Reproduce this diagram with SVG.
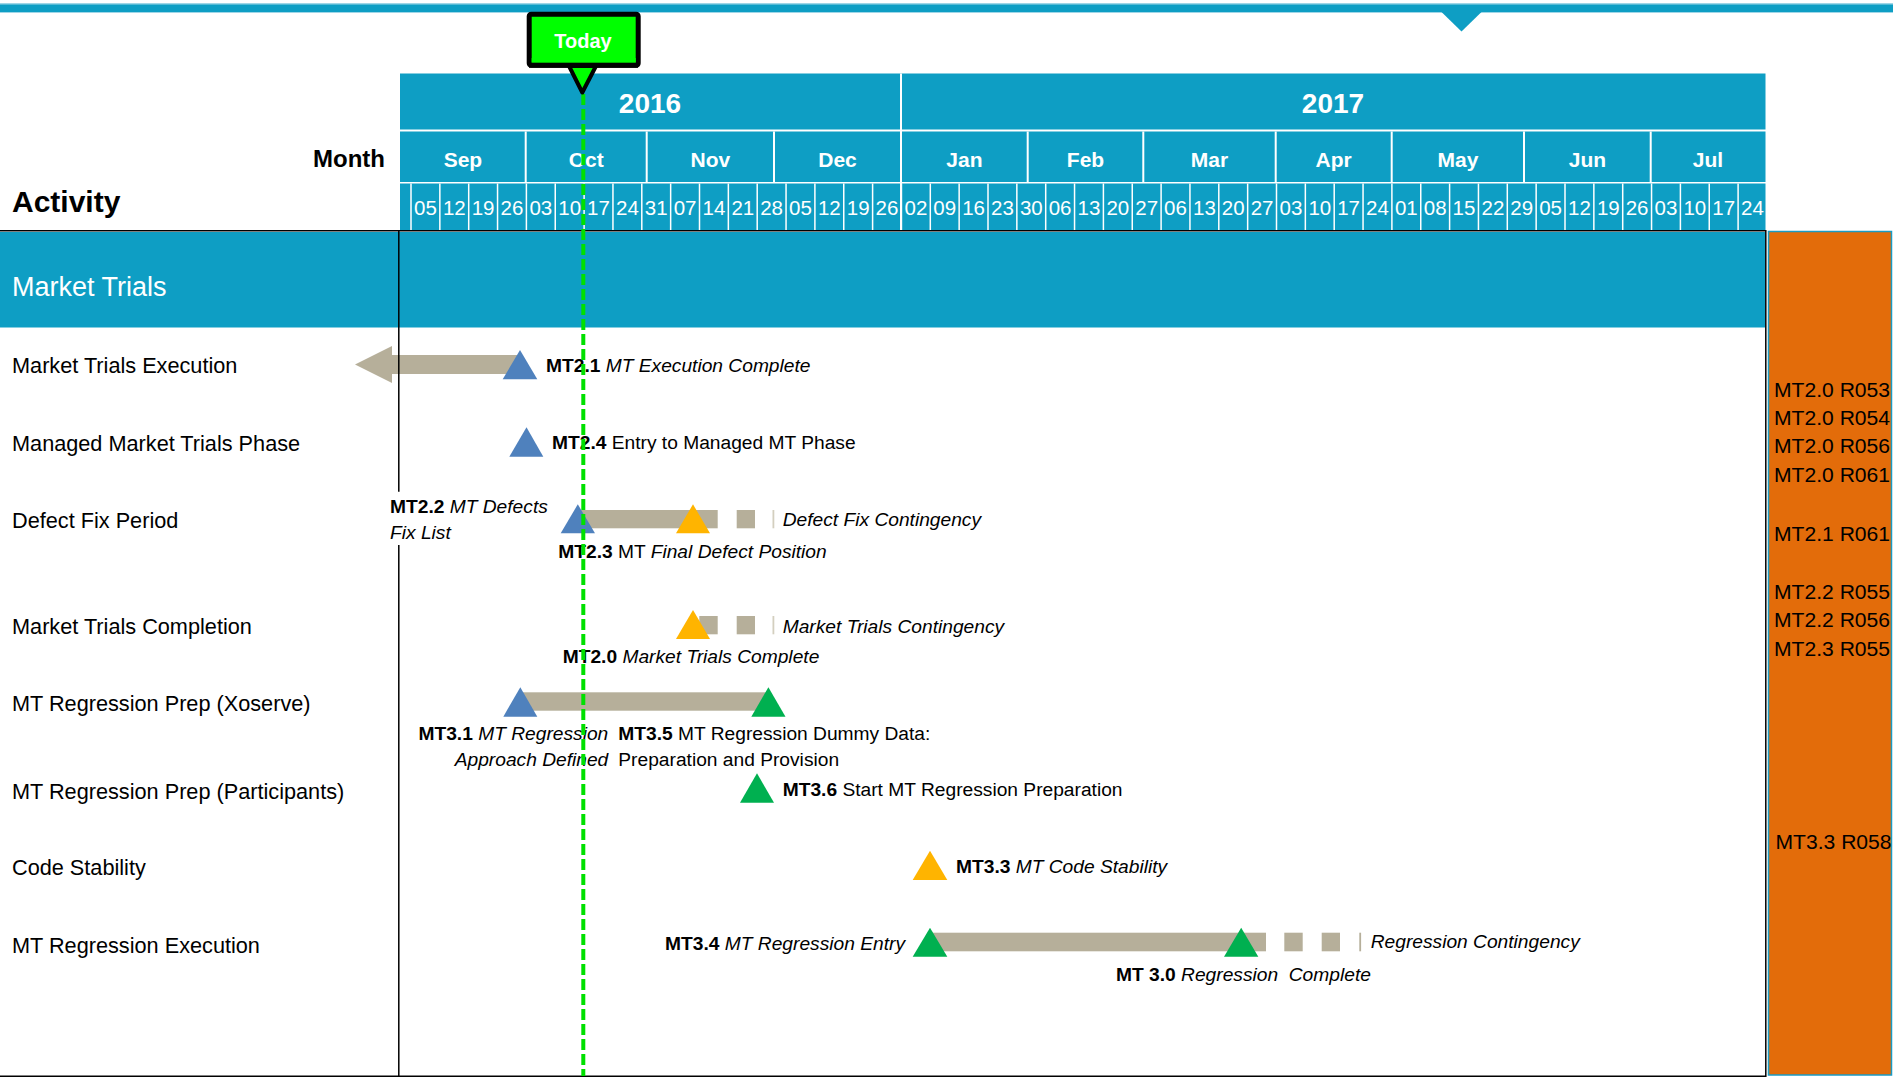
<svg xmlns="http://www.w3.org/2000/svg" width="1893" height="1081" viewBox="0 0 1893 1081">
<style>
text{font-family:'Liberation Sans',Arial,sans-serif;}
.hdr{fill:#0E9EC4;}
.yr{font-size:28px;font-weight:bold;fill:#fff;text-anchor:middle;}
.mo{font-size:21px;font-weight:bold;fill:#fff;text-anchor:middle;}
.wk{font-size:20.5px;fill:#fff;text-anchor:middle;}
.row{font-size:21.7px;fill:#000;}
.ms{font-size:19.2px;fill:#000;}
.b{font-weight:bold;}
.i{font-style:italic;}
.pan{font-size:21.1px;fill:#000;}
.bar{fill:#B6AF9A;}
.thin{fill:#D4CFBF;}
.blue{fill:#4F81BD;}
.green{fill:#00B050;}
.yel{fill:#FFB400;}
</style>
<rect width="1893" height="1081" fill="#fff"/>
<!-- top band -->
<g id="top-band">
<rect x="0" y="3" width="1893" height="10" fill="#9FD6E7"/>
<rect x="0" y="4.5" width="1893" height="7.5" class="hdr"/>
<polygon points="1441.5,12 1481.5,12 1461.5,31.5" class="hdr"/>
</g>
<!-- header -->
<g id="timescale">
<rect x="400" y="73.5" width="1365.5" height="56" class="hdr"/>
<rect x="400" y="131.5" width="1365.5" height="50.5" class="hdr"/>
<rect x="400" y="183.5" width="1365.5" height="47" class="hdr"/>
<path d="M901 73.5V230 M525.7 131.5V182 M646.7 131.5V182 M774 131.5V182 M1027.7 131.5V182 M1143.3 131.5V182 M1275.7 131.5V182 M1391.7 131.5V182 M1524 131.5V182 M1650.7 131.5V182" stroke="#fff" stroke-width="2"/>
<path d="M411 183.5V230 M439.85 183.5V230 M468.7 183.5V230 M497.55 183.5V230 M526.4 183.5V230 M555.25 183.5V230 M584.1 183.5V230 M612.95 183.5V230 M641.8 183.5V230 M670.65 183.5V230 M699.5 183.5V230 M728.35 183.5V230 M757.2 183.5V230 M786.05 183.5V230 M814.9 183.5V230 M843.75 183.5V230 M872.6 183.5V230 M901.45 183.5V230 M930.3 183.5V230 M959.15 183.5V230 M988 183.5V230 M1016.85 183.5V230 M1045.7 183.5V230 M1074.55 183.5V230 M1103.4 183.5V230 M1132.25 183.5V230 M1161.1 183.5V230 M1189.95 183.5V230 M1218.8 183.5V230 M1247.65 183.5V230 M1276.5 183.5V230 M1305.35 183.5V230 M1334.2 183.5V230 M1363.05 183.5V230 M1391.9 183.5V230 M1420.75 183.5V230 M1449.6 183.5V230 M1478.45 183.5V230 M1507.3 183.5V230 M1536.15 183.5V230 M1565 183.5V230 M1593.85 183.5V230 M1622.7 183.5V230 M1651.55 183.5V230 M1680.4 183.5V230 M1709.25 183.5V230 M1738.1 183.5V230" stroke="#fff" stroke-width="1.5"/>
<text class="yr" x="650" y="113">2016</text>
<text class="yr" x="1333" y="113">2017</text>
<text class="mo" x="462.9" y="167">Sep</text>
<text class="mo" x="586.2" y="167">Oct</text>
<text class="mo" x="710.4" y="167">Nov</text>
<text class="mo" x="837.5" y="167">Dec</text>
<text class="mo" x="964.4" y="167">Jan</text>
<text class="mo" x="1085.5" y="167">Feb</text>
<text class="mo" x="1209.5" y="167">Mar</text>
<text class="mo" x="1333.7" y="167">Apr</text>
<text class="mo" x="1457.9" y="167">May</text>
<text class="mo" x="1587.4" y="167">Jun</text>
<text class="mo" x="1707.9" y="167">Jul</text>
<text class="wk" y="215"><tspan x="425.4">05</tspan><tspan x="454.3">12</tspan><tspan x="483.1">19</tspan><tspan x="512">26</tspan><tspan x="540.8">03</tspan><tspan x="569.7">10</tspan><tspan x="598.5">17</tspan><tspan x="627.4">24</tspan><tspan x="656.2">31</tspan><tspan x="685.1">07</tspan><tspan x="713.9">14</tspan><tspan x="742.8">21</tspan><tspan x="771.6">28</tspan><tspan x="800.5">05</tspan><tspan x="829.3">12</tspan><tspan x="858.2">19</tspan><tspan x="887">26</tspan><tspan x="915.9">02</tspan><tspan x="944.7">09</tspan><tspan x="973.6">16</tspan><tspan x="1002.4">23</tspan><tspan x="1031.3">30</tspan><tspan x="1060.1">06</tspan><tspan x="1089">13</tspan><tspan x="1117.8">20</tspan><tspan x="1146.7">27</tspan><tspan x="1175.5">06</tspan><tspan x="1204.4">13</tspan><tspan x="1233.2">20</tspan><tspan x="1262.1">27</tspan><tspan x="1290.9">03</tspan><tspan x="1319.8">10</tspan><tspan x="1348.6">17</tspan><tspan x="1377.5">24</tspan><tspan x="1406.3">01</tspan><tspan x="1435.2">08</tspan><tspan x="1464">15</tspan><tspan x="1492.9">22</tspan><tspan x="1521.7">29</tspan><tspan x="1550.6">05</tspan><tspan x="1579.4">12</tspan><tspan x="1608.3">19</tspan><tspan x="1637.1">26</tspan><tspan x="1666">03</tspan><tspan x="1694.8">10</tspan><tspan x="1723.7">17</tspan><tspan x="1752.5">24</tspan></text>
<text x="385" y="167" font-size="24px" font-weight="bold" text-anchor="end">Month</text>
<text x="12" y="212" font-size="30px" font-weight="bold">Activity</text>
</g>
<!-- section band -->
<g id="section-market-trials">
<rect x="0" y="232" width="1765" height="95.5" class="hdr"/>
<text x="12" y="295.7" font-size="27px" fill="#fff">Market Trials</text>
</g>
<!-- orange panel -->
<g id="panel">
<rect x="1768.5" y="231.5" width="123" height="843.5" fill="#E36C0A" stroke="#1A9BC4" stroke-width="1.5"/>
<text class="pan" x="1774" y="396.7">MT2.0 R053</text>
<text class="pan" x="1774" y="424.8">MT2.0 R054</text>
<text class="pan" x="1774" y="453.3">MT2.0 R056</text>
<text class="pan" x="1774" y="482.3">MT2.0 R061</text>
<text class="pan" x="1774" y="540.7">MT2.1 R061</text>
<text class="pan" x="1774" y="599">MT2.2 R055</text>
<text class="pan" x="1774" y="627.3">MT2.2 R056</text>
<text class="pan" x="1774" y="655.6">MT2.3 R055</text>
<text class="pan" x="1775.5" y="849">MT3.3 R058</text>
</g>
<!-- rows -->
<g id="row-mt-execution">
<text class="row" x="12" y="373.3">Market Trials Execution</text>
<polygon class="bar" points="355,364.5 392,346 392,355 520,355 520,374 392,374 392,383"/>
<polygon class="blue" points="502.7,379.3 537.3,379.3 520,350"/>
<text class="ms" x="546" y="371.7"><tspan class="b">MT2.1</tspan><tspan class="i"> MT Execution Complete</tspan></text>
</g>
<g id="row-managed-mt">
<text class="row" x="12" y="450.7">Managed Market Trials Phase</text>
<polygon class="blue" points="509.3,456.7 543.3,456.7 526.5,427.3"/>
<text class="ms" x="552" y="448.7"><tspan class="b">MT2.4</tspan> Entry to Managed MT Phase</text>
</g>
<g id="row-defect-fix">
<text class="row" x="12" y="527.7">Defect Fix Period</text>
<rect class="bar" x="580" y="510" width="137.7" height="18.3"/>
<rect class="bar" x="736.7" y="510" width="18.3" height="18.3"/>
<rect class="thin" x="772.5" y="510" width="1.8" height="18.3"/>
<polygon class="blue" points="560.7,533.3 595,533.3 577.8,504.3"/>
<polygon class="yel" points="676,533.3 710,533.3 693,504.3"/>
<text class="ms i" x="782.7" y="525.7">Defect Fix Contingency</text>
<text class="ms" x="390" y="513.3"><tspan class="b">MT2.2</tspan><tspan class="i"> MT Defects</tspan></text>
<text class="ms i" x="390" y="539">Fix List</text>
<text class="ms" x="558.3" y="558.3"><tspan class="b">MT2.3</tspan> MT <tspan class="i">Final Defect Position</tspan></text>
</g>
<g id="row-mt-completion">
<text class="row" x="12" y="634">Market Trials Completion</text>
<rect class="bar" x="699.3" y="616" width="18.4" height="18.3"/>
<rect class="bar" x="736.7" y="616" width="18.3" height="18.3"/>
<rect class="thin" x="772.5" y="616" width="1.8" height="18.3"/>
<polygon class="yel" points="676,639 710,639 693,610"/>
<text class="ms i" x="782.7" y="632.7">Market Trials Contingency</text>
<text class="ms" x="562.7" y="663.3"><tspan class="b">MT2.0</tspan><tspan class="i"> Market Trials Complete</tspan></text>
</g>
<g id="row-regression-prep-xoserve">
<text class="row" x="12" y="710.5">MT Regression Prep (Xoserve)</text>
<rect class="bar" x="522" y="692.3" width="246" height="18.4"/>
<polygon class="blue" points="503.3,716.7 537.3,716.7 520.3,687.3"/>
<polygon class="green" points="751.3,716.7 785.5,716.7 768.4,687.3"/>
<text class="ms" x="608.3" y="740" text-anchor="end"><tspan class="b">MT3.1</tspan><tspan class="i"> MT Regression</tspan></text>
<text class="ms i" x="608.3" y="766" text-anchor="end">Approach Defined</text>
<text class="ms" x="618.3" y="740"><tspan class="b">MT3.5</tspan> MT Regression Dummy Data:</text>
<text class="ms" x="618.3" y="766">Preparation and Provision</text>
</g>
<g id="row-regression-prep-participants">
<text class="row" x="12" y="798.5">MT Regression Prep (Participants)</text>
<polygon class="green" points="740,802.7 774,802.7 757,773.3"/>
<text class="ms" x="782.7" y="796"><tspan class="b">MT3.6</tspan> Start MT Regression Preparation</text>
</g>
<g id="row-code-stability">
<text class="row" x="12" y="875">Code Stability</text>
<polygon class="yel" points="912.7,880 947.3,880 930,850.7"/>
<text class="ms" x="956" y="873.3"><tspan class="b">MT3.3</tspan><tspan class="i"> MT Code Stability</tspan></text>
</g>
<g id="row-regression-execution">
<text class="row" x="12" y="953">MT Regression Execution</text>
<rect class="bar" x="930" y="932.7" width="336" height="18.6"/>
<rect class="bar" x="1284.3" y="932.7" width="18.4" height="18.6"/>
<rect class="bar" x="1321.7" y="932.7" width="18.3" height="18.6"/>
<rect class="bar" x="1359.3" y="932.7" width="1.8" height="18.6"/>
<polygon class="green" points="912.7,956.7 947.3,956.7 930,927.7"/>
<polygon class="green" points="1224,956.7 1258.3,956.7 1241.2,927.7"/>
<text class="ms i" x="1370.7" y="948.3">Regression Contingency</text>
<text class="ms" x="905" y="950" text-anchor="end"><tspan class="b">MT3.4</tspan><tspan class="i"> MT Regression Entry</tspan></text>
<text class="ms" x="1116" y="980.7" style="white-space:pre"><tspan class="b">MT 3.0</tspan><tspan class="i"> Regression  Complete</tspan></text>
</g>
<!-- frame -->
<g id="frame" fill="none" stroke="#000" stroke-width="1.5">
<rect x="-2" y="230.75" width="1767.8" height="845.5"/>
<path d="M398.8 231V491.7 M398.8 545V1076"/>
</g>
<!-- today marker -->
<g id="connectors">
<line x1="583.3" y1="94" x2="583.3" y2="1076" stroke="#00E000" stroke-width="4" stroke-dasharray="11 4"/>
</g>
<g id="today">
<rect x="529.2" y="14.2" width="109" height="51" rx="2" fill="#00FF00" stroke="#000" stroke-width="5"/>
<polygon points="569,66 596,66 582.3,92.5" fill="#00FF00" stroke="#000" stroke-width="4" stroke-linejoin="round"/>
<rect x="531.7" y="58" width="104" height="4.7" fill="#00FF00"/>
<line x1="529" y1="65.2" x2="638" y2="65.2" stroke="#000" stroke-width="5"/>
<text x="583" y="47.7" font-size="20px" font-weight="bold" fill="#fff" text-anchor="middle">Today</text>
</g>
</svg>
